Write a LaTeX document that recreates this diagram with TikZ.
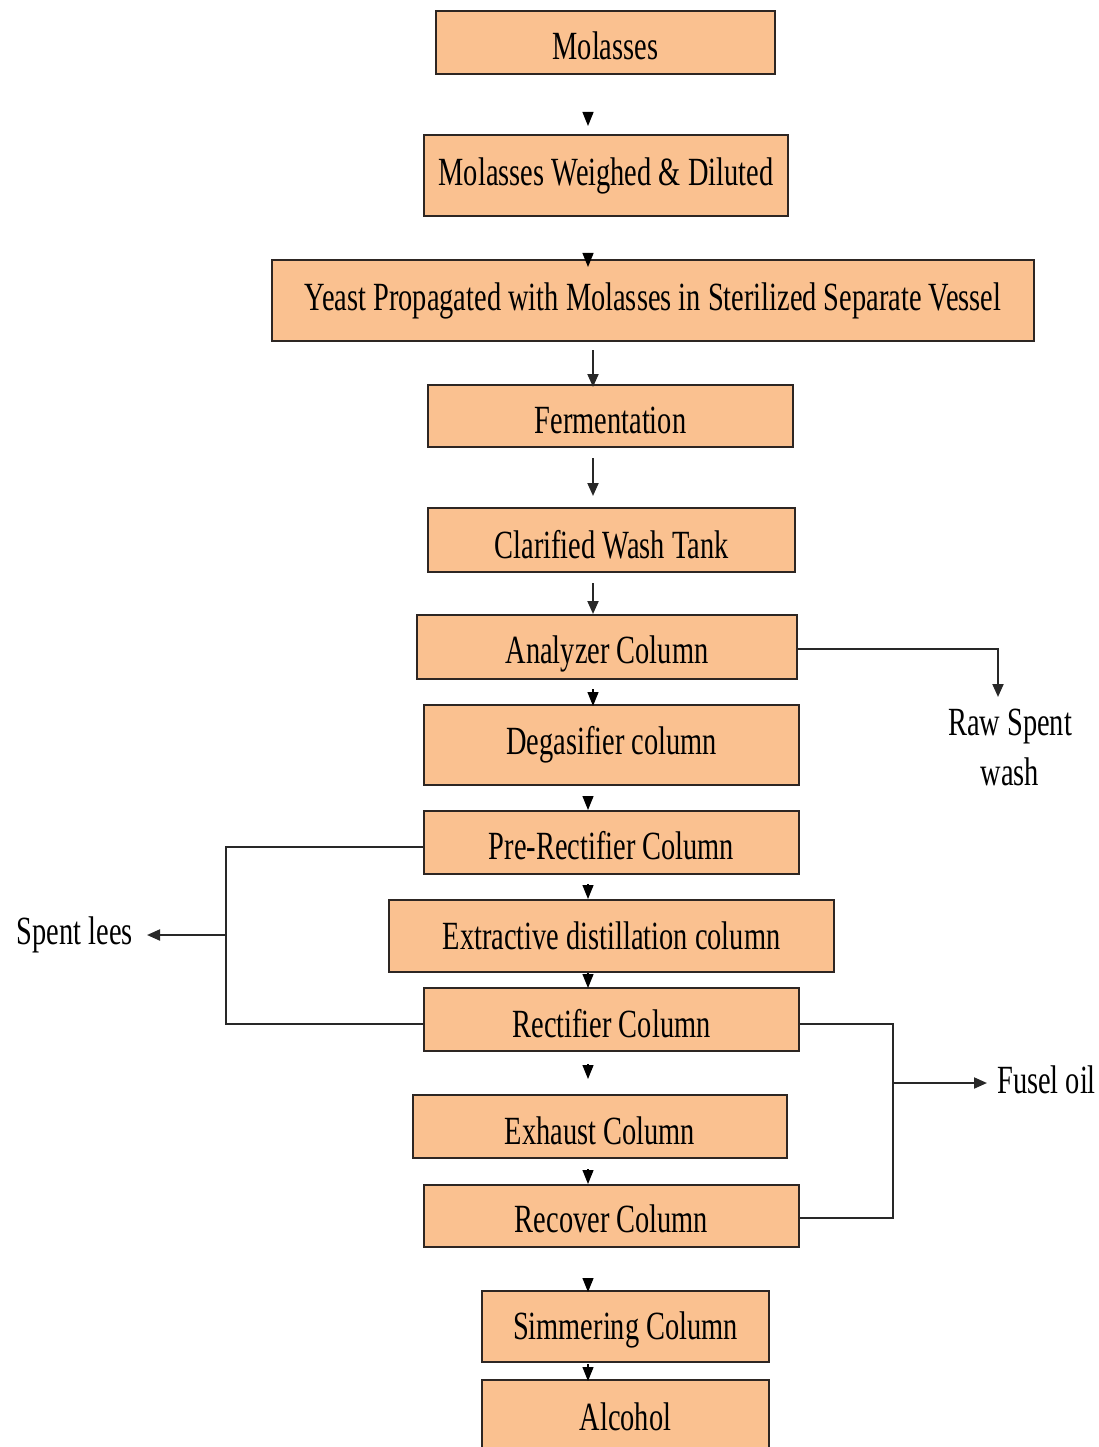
\documentclass[tikz,border=0pt]{standalone}
\usepackage{fontspec}
\setmainfont{Liberation Serif}[FakeStretch=0.71]
\usetikzlibrary{arrows.meta,calc}
\definecolor{boxfill}{RGB}{250,193,144}
\definecolor{boxline}{RGB}{45,38,35}
\definecolor{connline}{RGB}{40,40,40}
\newcommand{\dn}[2]{\raisebox{-#1pt}[\height][\depth]{#2}}
\begin{document}
\begin{tikzpicture}[x=1pt,y=-1pt,
  box/.style={draw=boxline,fill=boxfill,line width=2pt,inner sep=0pt,
    font=\fontsize{40}{50}\selectfont},
  lbl/.style={inner sep=0pt,font=\fontsize{40}{50}\selectfont,align=center},
  conn/.style={draw=connline,line width=2pt},
  arr/.style={conn,-{Triangle[width=11pt,length=13pt]}},
  headonly/.style={draw=black,line width=1.2pt,-{Triangle[width=11pt,length=14pt]}}]
\useasboundingbox (0,0) rectangle (1099,1447);
\coordinate (cx) at (588,0);
\coordinate (cy) at (593,0);
\coordinate (slx) at (226,0);
\coordinate (fx) at (893,0);

\node[box,minimum width=339pt,minimum height=63pt] (m1) at (605.5,42.5) {\dn{3}{Molasses}};
\node[box,minimum width=364pt,minimum height=81pt] (m2) at (606,175.5) {Molasses Weighed \& Diluted};
\node[box,minimum width=762pt,minimum height=81pt] (m3) at (653,300.5) {Yeast Propagated with Molasses in Sterilized Separate Vessel};
\node[box,minimum width=365pt,minimum height=62pt] (m4) at (610.5,416) {\dn{4}{Fermentation}};
\node[box,minimum width=367pt,minimum height=64pt] (m5) at (611.5,540) {\dn{5}{Clarified Wash Tank}};
\node[box,minimum width=380pt,minimum height=64pt] (m6) at (607,647) {\dn{7}{Analyzer Column}};
\node[box,minimum width=375pt,minimum height=80pt] (m7) at (611.5,745) {Degasifier column};
\node[box,minimum width=375pt,minimum height=63pt] (m8) at (611.5,842.5) {\dn{3}{Pre-Rectifier Column}};
\node[box,minimum width=445pt,minimum height=72pt] (m9) at (611.5,936) {Extractive distillation column};
\node[box,minimum width=375pt,minimum height=63pt] (m10) at (611.5,1019.5) {\dn{4}{Rectifier Column}};
\node[box,minimum width=374pt,minimum height=63pt] (m11) at (600,1126.5) {\dn{4}{Exhaust Column}};
\node[box,minimum width=375pt,minimum height=62pt] (m12) at (611.5,1216) {\dn{3}{Recover Column}};
\node[box,minimum width=287pt,minimum height=71pt] (m13) at (625.5,1326.5) {\dn{3}{Simmering Column}};
\node[box,minimum width=287pt,minimum height=74pt] (m14) at (625.5,1417) {Alcohol};

\node[lbl] (raw) at (1010,747) {Raw Spent\\wash};
\node[lbl,anchor=east,inner xsep=14pt] (lees) at (147,935) {Spent lees};
\node[lbl,anchor=west,inner xsep=10pt] (fusel) at (987,1080) {Fusel oil};
\coordinate (rawtop) at (998,697);

% main flow
\draw[headonly] ($(m2.north -| cx)+(0,-22)$) -- ($(m2.north -| cx)+(0,-8)$);
\draw[headonly] ($(m3.north -| cx)+(0,-6)$) -- ($(m3.north -| cx)+(0,8)$);
\draw[arr] ($(m3.south -| cy)+(0,8)$) -- ($(m4.north -| cy)+(0,3)$);
\draw[arr] ($(m4.south -| cy)+(0,10)$) -- ($(m5.north -| cy)+(0,-11)$);
\draw[arr] ($(m5.south -| cy)+(0,10)$) -- (m6.north -| cy);
\draw[headonly] ($(m6.south -| cy)+(0,9)$) -- ($(m7.north -| cy)+(0,2)$);
\draw[headonly] ($(m8.north -| cx)+(0,-14)$) -- (m8.north -| cx);
\draw[headonly] ($(m9.north -| cx)+(0,-15)$) -- (m9.north -| cx);
\draw[headonly] ($(m10.north -| cx)+(0,-14)$) -- ($(m10.north -| cx)+(0,1)$);
\draw[headonly] ($(m11.north -| cx)+(0,-30)$) -- ($(m11.north -| cx)+(0,-15)$);
\draw[headonly] ($(m12.north -| cx)+(0,-15)$) -- (m12.north -| cx);
\draw[headonly] ($(m13.north -| cx)+(0,-12)$) -- ($(m13.north -| cx)+(0,2)$);
\draw[headonly] ($(m14.north -| cx)+(0,-15)$) -- ($(m14.north -| cx)+(0,2)$);

% side streams
\draw[arr] ($(m6.east)+(0,2)$) -| (rawtop);
\draw[conn] ($(m8.west)+(0,4)$) -- ($(m8.west -| slx)+(0,4)$) -- ($(m10.west -| slx)+(0,4.5)$) -- ($(m10.west)+(0,4.5)$);
\draw[arr] (slx |- lees.east) -- (lees.east);
\draw[conn] ($(m10.east)+(0,4.5)$) -- ($(m10.east -| fx)+(0,4.5)$) -- ($(m12.east -| fx)+(0,2)$) -- ($(m12.east)+(0,2)$);
\draw[arr] ($(fx |- fusel.west)+(0,3)$) -- ($(fusel.west)+(0,3)$);
\end{tikzpicture}
\end{document}
